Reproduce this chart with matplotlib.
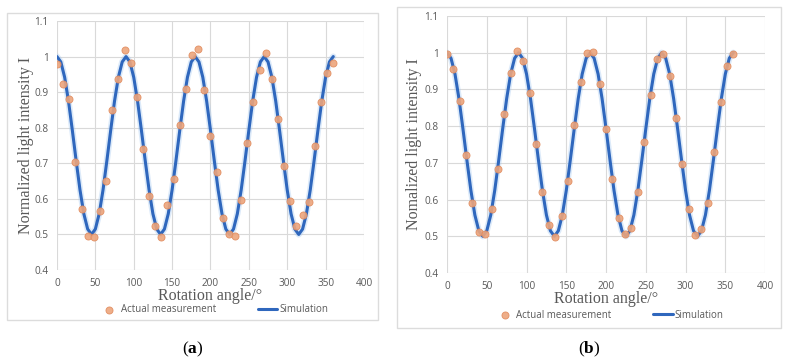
import matplotlib
matplotlib.use("Agg")
import matplotlib.pyplot as plt
from matplotlib.patches import Rectangle

plt.rcParams["mathtext.fontset"] = "custom"
plt.rcParams["mathtext.rm"] = "Liberation Serif"
plt.rcParams["mathtext.bf"] = "Liberation Serif:bold"

# measured points, every 8 degrees
angles = [0, 8, 16, 24, 32, 40, 48, 56, 64, 72, 80, 88, 96, 104, 112, 120,
          128, 136, 144, 152, 160, 168, 176, 184, 192, 200, 208, 216, 224,
          232, 240, 248, 256, 264, 272, 280, 288, 296, 304, 312, 320, 328,
          336, 344, 352, 360]

measured_a = [0.979, 0.924, 0.882, 0.703, 0.572, 0.497, 0.492, 0.566, 0.649,
              0.851, 0.937, 1.018, 0.982, 0.887, 0.740, 0.609, 0.524, 0.494,
              0.584, 0.655, 0.809, 0.909, 1.005, 1.021, 0.906, 0.778, 0.675,
              0.545, 0.502, 0.497, 0.596, 0.758, 0.872, 0.962, 1.009, 0.936,
              0.825, 0.693, 0.594, 0.523, 0.556, 0.592, 0.748, 0.873, 0.953,
              0.983]

measured_b = [0.996, 0.956, 0.868, 0.721, 0.592, 0.512, 0.506, 0.573, 0.682,
              0.834, 0.946, 1.006, 0.978, 0.891, 0.752, 0.620, 0.532, 0.497,
              0.555, 0.650, 0.802, 0.920, 0.998, 1.001, 0.916, 0.793, 0.657,
              0.551, 0.505, 0.522, 0.620, 0.758, 0.885, 0.983, 0.997, 0.937,
              0.823, 0.697, 0.573, 0.504, 0.521, 0.590, 0.729, 0.865, 0.965,
              0.997]

# simulation curve read every 5 degrees
sim_angles = [0, 5, 10, 15, 20, 25, 30, 35, 40, 45, 50, 55, 60, 65, 70, 75,
              80, 85, 90, 95, 100, 105, 110, 115, 120, 125, 130, 135, 140,
              145, 150, 155, 160, 165, 170, 175, 180, 185, 190, 195, 200, 205,
              210, 215, 220, 225, 230, 235, 240, 245, 250, 255, 260, 265, 270,
              275, 280, 285, 290, 295, 300, 305, 310, 315, 320, 325, 330, 335,
              340, 345, 350, 355, 360]
sim_values = [1.0, 0.985, 0.942, 0.875, 0.793, 0.707, 0.625, 0.558, 0.515, 0.5,
              0.515, 0.558, 0.625, 0.707, 0.793, 0.875, 0.942, 0.985,
              1.0, 0.985, 0.942, 0.875, 0.793, 0.707, 0.625, 0.558, 0.515, 0.5,
              0.515, 0.558, 0.625, 0.707, 0.793, 0.875, 0.942, 0.985,
              1.0, 0.985, 0.942, 0.875, 0.793, 0.707, 0.625, 0.558, 0.515, 0.5,
              0.515, 0.558, 0.625, 0.707, 0.793, 0.875, 0.942, 0.985,
              1.0, 0.985, 0.942, 0.875, 0.793, 0.707, 0.625, 0.558, 0.515, 0.5,
              0.515, 0.558, 0.625, 0.707, 0.793, 0.875, 0.942, 0.985,
              1.0]

xticks = [0, 50, 100, 150, 200, 250, 300, 350, 400]
yticks = [0.4, 0.5, 0.6, 0.7, 0.8, 0.9, 1.0, 1.1]
ytick_labels = ["0.4", "0.5", "0.6", "0.7", "0.8", "0.9", "1", "1.1"]

GRID = "#d9d9d9"
TXT = "#595959"
BLUE = "#2f67bd"

fig = plt.figure(figsize=(7.88, 3.64), dpi=100)

panels = [
    dict(rect=[0.0723, 0.2582, 0.3896, 0.6841], box=(7, 13, 378, 320),
         meas=measured_a, ylabel="Normalized light intensity I",
         ylab_x=26, xlab_y=296, leg_y=310, cap="a", cap_x=193),
    dict(rect=[0.5673, 0.2500, 0.4036, 0.7060], box=(397, 7, 781, 328),
         meas=measured_b, ylabel="Nomalized light intensity I",
         ylab_x=414, xlab_y=299, leg_y=315, cap="b", cap_x=589),
]

W, H = 788.0, 364.0
for p in panels:
    x0, y0, x1, y1 = p["box"]
    fig.patches.append(Rectangle((x0 / W, 1 - y1 / H), (x1 - x0) / W, (y1 - y0) / H,
                                 transform=fig.transFigure, fill=False,
                                 edgecolor="#dcdcdc", linewidth=1.0))

    ax = fig.add_axes(p["rect"])
    ax.plot(sim_angles, sim_values, color="#9cc3f0", linewidth=4.5, alpha=0.35,
            solid_capstyle="round", zorder=2)
    ax.plot(sim_angles, sim_values, color=BLUE, linewidth=2.2,
            solid_capstyle="round", zorder=3, label="Simulation")
    ax.scatter(angles, p["meas"], s=26, facecolor="#eda57c", edgecolor="#e08a5c",
               linewidth=0.6, alpha=0.9, zorder=4, label="Actual measurement")

    ax.set_xlim(0, 400)
    ax.set_ylim(0.4, 1.1)
    ax.set_xticks(xticks)
    ax.set_xticklabels([str(t) for t in xticks])
    ax.set_yticks(yticks)
    ax.set_yticklabels(ytick_labels)
    ax.tick_params(length=0, labelsize=7.2, colors=TXT, pad=6)
    for lab in ax.get_xticklabels() + ax.get_yticklabels():
        lab.set_fontfamily("Open Sans")
    ax.grid(True, color=GRID, linewidth=0.8)
    ax.set_axisbelow(True)
    for s in ax.spines.values():
        s.set_visible(False)

    cx = p["rect"][0] + p["rect"][2] / 2
    fig.text(cx, 1 - p["xlab_y"] / H, "Rotation angle/°", ha="center", va="center",
             fontsize=11.5, color=TXT, family="Liberation Serif")
    fig.text(p["ylab_x"] / W, p["rect"][1] + p["rect"][3] / 2, p["ylabel"],
             rotation=90, ha="center", va="center", fontsize=11.5, color=TXT,
             family="Liberation Serif")

    handles, labels = ax.get_legend_handles_labels()
    leg = fig.legend(handles[::-1], labels[::-1], loc="center",
                     bbox_to_anchor=(cx + 0.004, 1 - p["leg_y"] / H), ncol=2,
                     frameon=False, columnspacing=4.3, borderpad=0.1,
                     handlelength=2.0, handletextpad=0.2,
                     prop={"family": "Open Sans", "size": 7})
    for t in leg.get_texts():
        t.set_color(TXT)

    fig.text(p["cap_x"] / W, 1 - 349 / H, "($\\mathbf{" + p["cap"] + "}$)",
             ha="center", va="center", fontsize=12.5, color="black",
             family="Liberation Serif")

fig.savefig("out.png", dpi=100, facecolor="white")
